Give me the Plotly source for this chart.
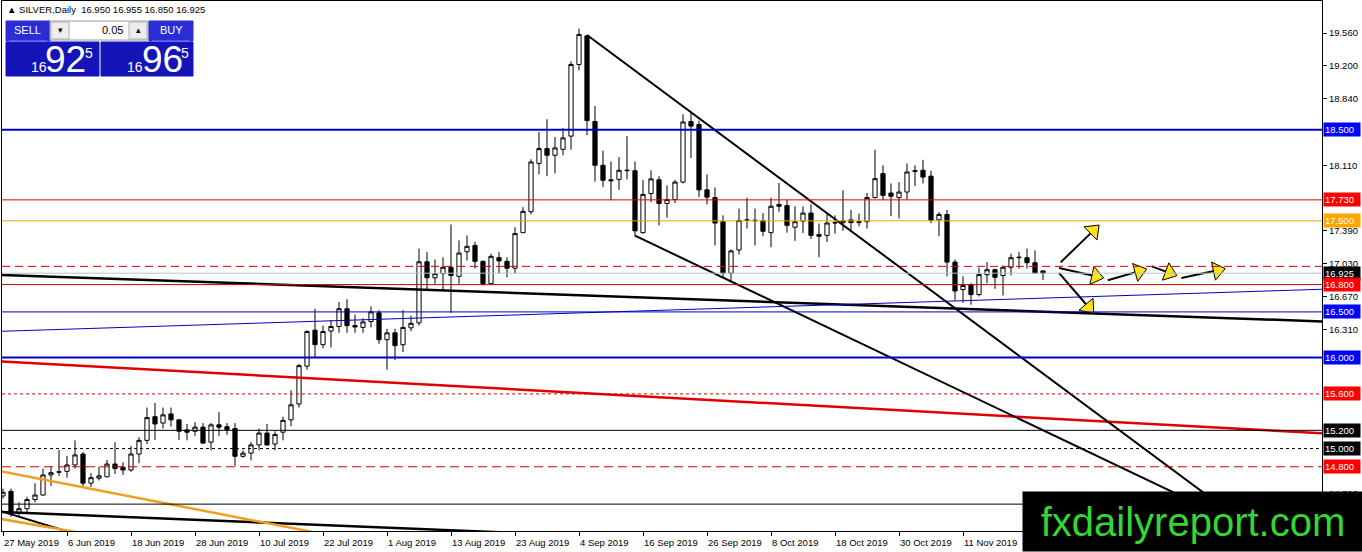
import plotly.graph_objects as go

# ---------------- data ----------------
bar_index = list(range(131))
opens = [14.48, 14.53, 14.29, 14.34, 14.44, 14.49, 14.71, 14.74, 14.75, 14.82,
         14.94, 14.62, 14.675, 14.69, 14.83, 14.795, 14.765, 14.94, 15.09, 15.35,
         15.28, 15.38, 15.315, 15.205, 15.19, 15.235, 15.07, 15.26, 15.24, 15.22,
         14.915, 14.95, 15.04, 15.17, 15.05, 15.18, 15.315, 15.49, 15.905, 16.30,
         16.14, 16.29, 16.34, 16.535, 16.35, 16.33, 16.395, 16.49, 16.195, 16.27,
         16.14, 16.325, 16.38, 17.05, 16.875, 16.92, 16.99, 16.89, 17.16, 17.23,
         17.055, 16.81, 17.095, 17.055, 16.98, 17.37, 17.60, 18.13, 18.293, 18.22,
         18.285, 18.43, 19.216, 19.53, 18.59, 18.11, 17.95, 17.955, 18.05, 18.05,
         17.37, 17.80, 17.95, 17.69, 17.733, 17.925, 18.59, 18.557, 17.84, 17.755,
         17.49, 16.925, 17.18, 17.505, 17.50, 17.50, 17.37, 17.68, 17.667, 17.43,
         17.497, 17.585, 17.35, 17.34, 17.476, 17.48, 17.51, 17.48, 17.49, 17.755,
         18.018, 17.805, 17.755, 17.816, 18.04, 18.055, 17.99, 17.51, 17.57, 17.047,
         16.745, 16.80, 16.69, 16.908, 16.963, 16.90, 16.99, 17.095, 17.095, 17.04,
         16.95]
highs = [14.56, 14.56, 14.41, 14.47, 14.62, 14.78, 14.80, 14.985, 14.92, 15.09,
         14.96, 14.73, 14.80, 14.875, 15.07, 14.85, 15.03, 15.125, 15.45, 15.50,
         15.45, 15.45, 15.32, 15.27, 15.29, 15.28, 15.28, 15.40, 15.28, 15.28,
         14.98, 15.07, 15.22, 15.27, 15.19, 15.35, 15.64, 15.93, 16.30, 16.535,
         16.35, 16.41, 16.61, 16.64, 16.47, 16.43, 16.56, 16.52, 16.315, 16.315,
         16.52, 16.46, 17.195, 17.16, 17.075, 17.10, 17.46, 17.285, 17.34, 17.27,
         17.065, 17.14, 17.16, 17.10, 17.43, 17.65, 18.175, 18.475, 18.615, 18.42,
         18.52, 19.25, 19.61, 19.54, 18.76, 18.27, 18.15, 18.20, 18.43, 18.15,
         17.95, 18.055, 17.99, 17.89, 17.95, 18.67, 18.685, 18.60, 18.01, 17.865,
         17.56, 17.185, 17.635, 17.755, 17.635, 17.585, 17.755, 17.915, 17.733, 17.66,
         17.66, 17.68, 17.47, 17.58, 17.56, 17.835, 17.62, 17.58, 17.805, 18.28,
         18.11, 17.91, 17.925, 18.13, 18.11, 18.17, 18.05, 17.596, 17.62, 17.075,
         16.89, 16.816, 16.985, 17.047, 16.974, 17.01, 17.14, 17.16, 17.195, 17.175,
         16.955]
lows = [14.45, 14.25, 14.25, 14.29, 14.41, 14.48, 14.59, 14.70, 14.68, 14.78,
        14.58, 14.58, 14.65, 14.685, 14.72, 14.71, 14.745, 14.84, 15.05, 15.095,
        15.22, 15.24, 15.095, 15.09, 15.14, 15.05, 14.98, 15.14, 15.15, 14.81,
        14.90, 14.87, 14.98, 15.03, 14.98, 15.09, 15.245, 15.45, 15.865, 16.00,
        16.10, 16.11, 16.27, 16.27, 16.27, 16.27, 16.33, 16.15, 15.865, 15.97,
        16.06, 16.29, 16.35, 16.73, 16.81, 16.74, 16.49, 16.81, 17.065, 16.975,
        16.79, 16.80, 16.92, 16.88, 16.92, 17.37, 17.57, 18.01, 17.99, 18.02,
        18.22, 18.28, 19.15, 18.44, 17.93, 17.87, 17.725, 17.84, 17.955, 17.33,
        17.36, 17.705, 17.45, 17.535, 17.695, 17.91, 18.19, 17.76, 17.68, 17.23,
        16.88, 16.82, 17.13, 17.415, 17.23, 17.33, 17.21, 17.60, 17.37, 17.28,
        17.365, 17.30, 17.10, 17.267, 17.36, 17.39, 17.40, 17.44, 17.415, 17.745,
        17.725, 17.55, 17.525, 17.73, 17.88, 17.91, 17.475, 17.33, 16.89, 16.625,
        16.60, 16.58, 16.67, 16.816, 16.754, 16.68, 16.90, 16.975, 16.975, 16.92,
        16.85]
closes = [14.52, 14.29, 14.34, 14.44, 14.49, 14.71, 14.735, 14.745, 14.82, 14.93,
          14.62, 14.68, 14.70, 14.83, 14.78, 14.765, 14.94, 15.09, 15.34, 15.27,
          15.37, 15.315, 15.19, 15.18, 15.235, 15.06, 15.26, 15.235, 15.21, 14.915,
          14.95, 15.04, 15.17, 15.04, 15.155, 15.31, 15.48, 15.91, 16.285, 16.14,
          16.285, 16.34, 16.535, 16.35, 16.335, 16.39, 16.50, 16.195, 16.27, 16.13,
          16.33, 16.375, 17.05, 16.875, 16.92, 16.99, 16.90, 17.146, 17.22, 17.055,
          16.81, 17.11, 17.06, 16.98, 17.36, 17.604, 18.146, 18.293, 18.22, 18.30,
          18.41, 19.216, 19.546, 18.60, 18.11, 17.945, 17.94, 18.055, 18.055, 17.39,
          17.79, 17.96, 17.69, 17.733, 17.925, 18.585, 18.54, 17.84, 17.76, 17.475,
          16.925, 17.17, 17.505, 17.51, 17.505, 17.385, 17.66, 17.66, 17.45, 17.49,
          17.585, 17.34, 17.33, 17.476, 17.48, 17.50, 17.48, 17.49, 17.755, 17.963,
          17.78, 17.77, 17.816, 18.036, 18.05, 17.98, 17.505, 17.57, 17.047, 16.73,
          16.79, 16.69, 16.91, 16.963, 16.88, 16.99, 17.095, 17.10, 17.04, 16.926,
          16.925]

date_tick_bars = [0, 8, 16, 24, 32, 40, 48, 56, 64, 72, 80, 88, 96, 104, 112, 120]
date_tick_labels = ["27 May 2019", "6 Jun 2019", "18 Jun 2019", "28 Jun 2019",
                    "10 Jul 2019", "22 Jul 2019", "1 Aug 2019", "13 Aug 2019",
                    "23 Aug 2019", "4 Sep 2019", "16 Sep 2019", "26 Sep 2019",
                    "8 Oct 2019", "18 Oct 2019", "30 Oct 2019", "11 Nov 2019"]
price_ticks = [19.56, 19.20, 18.84, 18.11, 17.39, 17.03, 16.67, 16.31, 14.51]

level_prices = [18.5, 17.73, 17.5, 17.0, 16.925, 16.8, 16.5, 16.0, 15.6, 15.2,
                15.0, 14.8, 14.39]
labelled_levels = [18.5, 17.73, 17.5, 16.925, 16.8, 16.5, 16.0, 15.6, 15.2,
                   15.0, 14.8]

# trend lines: (bar, price) end points
resist_x, resist_y = [-1, 165], [16.909, 16.395]
blue_diag_x, blue_diag_y = [-1, 165], [16.285, 16.749]
red_diag_x, red_diag_y = [-1, 165], [15.960, 15.167]
low_flat_x, low_flat_y = [-1, 80], [14.308, 14.017]
low_steep_x, low_steep_y = [-1, 10], [14.332, 14.037]
orange1_x, orange1_y = [-1, 45], [14.763, 13.977]
orange2_x, orange2_y = [-1, 12], [14.239, 14.039]
chan_top_x, chan_top_y = [73, 160], [19.54, 13.868]
chan_bot_x, chan_bot_y = [79, 160], [17.337, 13.946]

# forecast arrows: start (bar, price) -> head (bar, price)
arrow_x0 = [132.2, 132.0, 132.0, 138.1, 143.6, 147.3]
arrow_y0 = [17.044, 16.983, 16.928, 16.847, 17.000, 16.873]
arrow_x1 = [136.3, 136.6, 135.7, 142.0, 145.8, 151.8]
arrow_y1 = [17.392, 16.891, 16.551, 16.946, 16.928, 16.957]

header_text = "▲ SILVER,Daily  16.950 16.955 16.850 16.925"

# ---------------- layout geometry ----------------
W, H = 1362, 552
ML, MR, MT, MB = 2, 40, 1, 21
PW = W - ML - MR
PH = H - MT - MB
FONT = "Liberation Sans"


def pxx(x):
    return (x - ML) / PW


def pxy(y):
    return 1 - (y - MT) / PH


fig = go.Figure()

fig.add_trace(go.Candlestick(
    x=bar_index, open=opens, high=highs, low=lows, close=closes,
    increasing=dict(line=dict(color="black", width=1), fillcolor="white"),
    decreasing=dict(line=dict(color="black", width=1), fillcolor="black"),
    whiskerwidth=0, showlegend=False, hoverinfo="skip"))

level_style = {
    18.5: ("#0000C8", 2, "solid"),
    17.73: ("#E00000", 1, "solid"),
    17.5: ("#F0A000", 1, "solid"),
    17.0: ("#D00000", 1, "8px,5px"),
    16.925: ("#C0C0C0", 1, "solid"),
    16.8: ("#D00000", 1, "solid"),
    16.5: ("#0000C0", 1, "solid"),
    16.0: ("#0000C8", 2, "solid"),
    15.6: ("#D00000", 1, "3px,3px"),
    15.2: ("#000000", 1, "solid"),
    15.0: ("#000000", 1, "3px,3px"),
    14.8: ("#D00000", 1, "9px,5px"),
    14.39: ("#000000", 1, "solid"),
}
label_bg = {18.5: "#0000FF", 17.73: "#FF0000", 17.5: "#FFA500", 16.925: "#000000",
            16.8: "#FF0000", 16.5: "#0000FF", 16.0: "#0000FF", 15.6: "#FF0000",
            15.2: "#000000", 15.0: "#000000", 14.8: "#FF0000"}

shapes = []
for lv in level_prices:
    c, w, d = level_style[lv]
    shapes.append(dict(type="line", xref="paper", x0=0, x1=1, yref="y", y0=lv, y1=lv,
                       line=dict(color=c, width=w, dash=d), layer="above"))

trend_specs = [
    (resist_x, resist_y, "black", 2.5),
    (blue_diag_x, blue_diag_y, "#0000C0", 1),
    (red_diag_x, red_diag_y, "#E00000", 2.5),
    (low_flat_x, low_flat_y, "black", 2.5),
    (low_steep_x, low_steep_y, "black", 2),
    (orange1_x, orange1_y, "#F0A020", 2.5),
    (orange2_x, orange2_y, "#F0A020", 2.5),
    (chan_top_x, chan_top_y, "black", 2),
    (chan_bot_x, chan_bot_y, "black", 2),
]
for tx, ty, c, w in trend_specs:
    fig.add_trace(go.Scatter(x=tx, y=ty, mode="lines", line=dict(color=c, width=w),
                             showlegend=False, hoverinfo="skip"))

for a0, b0, a1, b1 in zip(arrow_x0, arrow_y0, arrow_x1, arrow_y1):
    fig.add_trace(go.Scatter(
        x=[a0, a1], y=[b0, b1], mode="lines+markers",
        line=dict(color="black", width=2),
        marker=dict(symbol="triangle-up", size=[1, 16], opacity=[0, 1],
                    angleref="previous", color="#FFE414",
                    line=dict(color="black", width=1)),
        showlegend=False, hoverinfo="skip"))

annotations = []
for lv in labelled_levels:
    annotations.append(dict(
        x=1, xref="paper", xanchor="left", xshift=1, y=lv, yref="y", yanchor="middle",
        text=f"{lv:.3f}", showarrow=False, bgcolor=label_bg[lv], borderpad=1,
        width=34, height=11, align="left",
        font=dict(family=FONT, size=9.5, color="white")))

for b, t in zip(date_tick_bars, date_tick_labels):
    annotations.append(dict(
        x=b, xref="x", xanchor="left", xshift=-1, y=0, yref="paper", yanchor="top",
        yshift=-4, text=t, showarrow=False,
        font=dict(family=FONT, size=9.5, color="black")))

# header
annotations.append(dict(x=pxx(5), y=pxy(10), xref="paper", yref="paper", xanchor="left",
                        yanchor="middle", text=header_text, showarrow=False,
                        font=dict(family=FONT, size=9.5, color="black")))

# trade panel
panel_rects = [
    (6, 21, 50, 41, "#2C2CD4", "#2C2CD4"),
    (50, 21, 148, 40, "#FFFFFF", "#9A9A9A"),
    (51, 22, 69, 39, "#EDEDED", "#B0B0B0"),
    (129, 22, 147, 39, "#EDEDED", "#B0B0B0"),
    (149, 21, 193, 41, "#2C2CD4", "#2C2CD4"),
    (6, 42, 99, 76, "#1414B8", "#1414B8"),
    (101, 42, 193, 76, "#1414B8", "#1414B8"),
]
for x0, y0, x1, y1, fc, lc in panel_rects:
    shapes.append(dict(type="rect", xref="paper", yref="paper", x0=pxx(x0), x1=pxx(x1),
                       y0=pxy(y1), y1=pxy(y0), fillcolor=fc,
                       line=dict(color=lc, width=1), layer="above"))
shapes.append(dict(type="line", xref="paper", yref="paper", x0=pxx(9), x1=pxx(47),
                   y0=pxy(41), y1=pxy(41), line=dict(color="#8080F0", width=1), layer="above"))
shapes.append(dict(type="line", xref="paper", yref="paper", x0=pxx(152), x1=pxx(190),
                   y0=pxy(41), y1=pxy(41), line=dict(color="#8080F0", width=1), layer="above"))

panel_texts = [
    ("SELL", 28, 30, 11, "white", "center"),
    ("BUY", 171, 30, 11, "white", "center"),
    ("▾", 60, 30, 9, "black", "center"),
    ("▴", 138, 30, 9, "black", "center"),
    ("0.05", 125, 30, 11, "black", "right"),
    ("16", 39, 67, 14, "white", "center"),
    ("92", 65, 60, 37, "white", "center"),
    ("5", 89, 53, 14, "white", "center"),
    ("16", 135, 67, 14, "white", "center"),
    ("96", 162, 60, 37, "white", "center"),
    ("5", 185, 53, 14, "white", "center"),
]
for t, x, y, s, c, anc in panel_texts:
    annotations.append(dict(x=pxx(x), y=pxy(y), xref="paper", yref="paper", xanchor=anc,
                            yanchor="middle", text=t, showarrow=False,
                            font=dict(family=FONT, size=s, color=c)))

# watermark
annotations.append(dict(x=pxx(1022), y=pxy(552), xref="paper", yref="paper",
                        xanchor="left", yanchor="bottom", text="fxdailyreport.com",
                        showarrow=False, bgcolor="black", borderpad=0, width=340,
                        height=59, font=dict(family=FONT, size=40, color="#33D633")))

fig.update_layout(
    width=W, height=H, margin=dict(l=ML, r=MR, t=MT, b=MB, pad=0),
    paper_bgcolor="white", plot_bgcolor="white", showlegend=False,
    shapes=shapes, annotations=annotations, boxgap=0.25, hovermode=False,
    font=dict(family=FONT, size=9.5, color="black"),
    xaxis=dict(range=[-0.125, 164.875], showgrid=False, zeroline=False,
               rangeslider=dict(visible=False), tickmode="array",
               tickvals=date_tick_bars, showticklabels=False, ticks="outside",
               ticklen=4, tickcolor="black", showline=True, linecolor="black",
               linewidth=1, mirror=True),
    yaxis=dict(range=[14.095, 19.913], side="right", showgrid=False, zeroline=False,
               tickmode="array", tickvals=price_ticks,
               ticktext=[f"{v:.3f}" for v in price_ticks], ticks="outside",
               ticklen=4, tickcolor="black", showline=True, linecolor="black",
               linewidth=1, mirror=True,
               tickfont=dict(family=FONT, size=9.5, color="black")),
)

fig.write_html("out.html", config={"displayModeBar": False},
               post_script="document.body.style.margin='0';document.body.style.overflow='hidden';")
